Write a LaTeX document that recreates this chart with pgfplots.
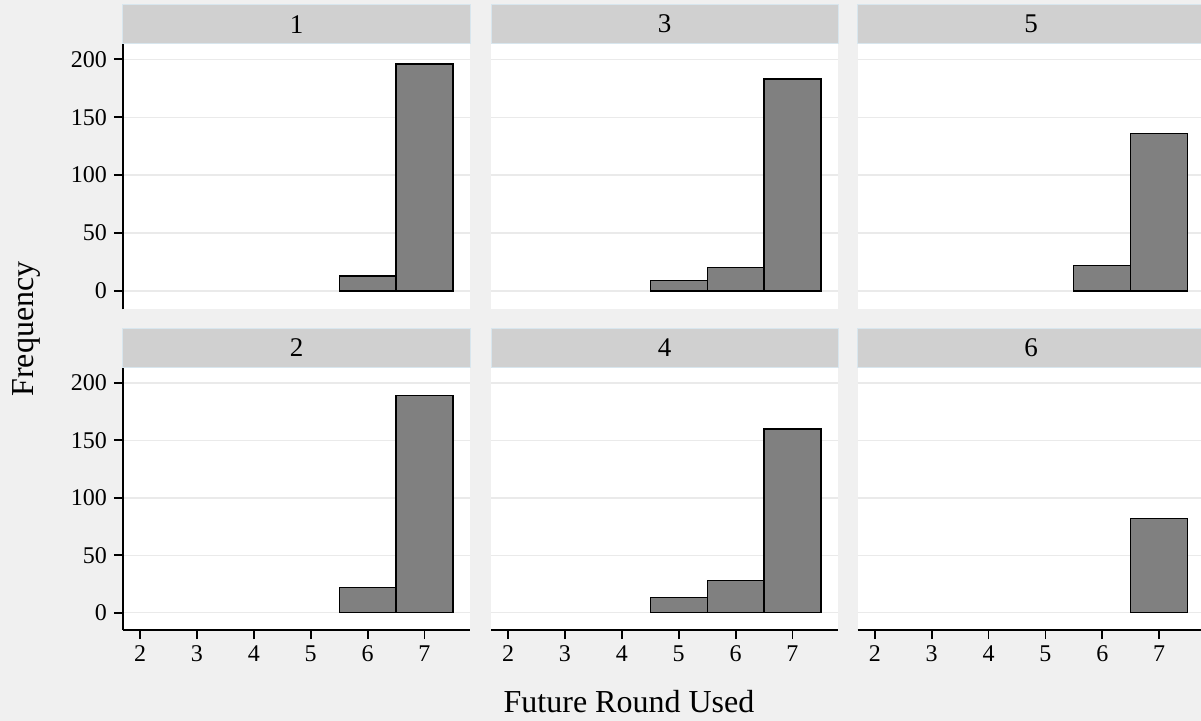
\documentclass[border=0pt]{standalone}
\usepackage{pgfplots}
\pgfplotsset{compat=1.18}
\usepackage{fontspec}
\setmainfont{Liberation Serif}
\definecolor{bgc}{HTML}{F0F0F0}
\definecolor{stripc}{HTML}{D0D0D0}
\definecolor{stripb}{HTML}{D8E6EE}
\definecolor{gridc}{HTML}{EAEAEA}
\definecolor{barc}{HTML}{808080}
\begin{document}
\begin{tikzpicture}
\useasboundingbox (0,0) rectangle (600.5bp,360.5bp);
\fill[bgc] (0,0) rectangle (600.5bp,360.5bp);
\pgfplotsset{
  panel/.style={
    scale only axis, width=173.5bp,
    xmin=1.7, xmax=7.8,
    xtick={2,...,7}, ytick={0,50,...,200},
    ymajorgrids, major grid style={gridc, line width=0.7bp},
    axis background/.style={fill=white},
    axis x line*=bottom, axis y line*=left,
    axis line style={-, line width=0.9bp, black},
    tick align=outside, major tick length=4.5bp,
    tick style={black, line width=0.9bp},
    ticklabel style={font=\fontsize{12bp}{14bp}\selectfont},
    /pgf/number format/assume math mode=true,
    title style={at={(0.5,1)}, anchor=south, fill=stripc, draw=stripb, line width=0.5bp,
      minimum width=173.5bp, minimum height=19.4bp, inner sep=0pt, yshift=-6pt,
      font=\fontsize{13.5bp}{15bp}\selectfont},
    anchor=south west,
  },
  toprow/.style={height=132.65bp, ymin=-15.8, ymax=213.2,
    x axis line style={draw=none}, xtick style={draw=none}, xticklabels={}},
  botrow/.style={height=131.15bp, ymin=-15.1, ymax=213.3},
  notleft/.style={y axis line style={draw=none}, ytick style={draw=none}, yticklabels={}},
  hbar/.style={ybar interval, fill=barc, draw=black, line width=0.6bp},
}
% top row
\begin{axis}[panel, toprow, at={(61.5bp,205.85bp)}, title={1}]
\addplot[hbar] coordinates {(5.5,13) (6.5,196) (7.5,196)};
\end{axis}
\begin{axis}[panel, toprow, notleft, at={(245.5bp,205.85bp)}, title={3}]
\addplot[hbar] coordinates {(4.5,9) (5.5,20) (6.5,183) (7.5,183)};
\end{axis}
\begin{axis}[panel, toprow, notleft, at={(428.85bp,205.85bp)}, title={5}]
\addplot[hbar] coordinates {(5.5,22) (6.5,136) (7.5,136)};
\end{axis}
% bottom row
\begin{axis}[panel, botrow, at={(61.5bp,45.5bp)}, title={2}]
\addplot[hbar] coordinates {(5.5,22) (6.5,189) (7.5,189)};
\end{axis}
\begin{axis}[panel, botrow, notleft, at={(245.5bp,45.5bp)}, title={4}]
\addplot[hbar] coordinates {(4.5,13) (5.5,28) (6.5,160) (7.5,160)};
\end{axis}
\begin{axis}[panel, botrow, notleft, at={(428.85bp,45.5bp)}, title={6}]
\addplot[hbar] coordinates {(6.5,82) (7.5,82)};
\end{axis}
\node[rotate=90, anchor=base, font=\fontsize{16bp}{18bp}\selectfont] at (16.5bp,196bp) {Frequency};
\node[anchor=base, font=\fontsize{16bp}{18bp}\selectfont] at (314.5bp,4.5bp) {Future Round Used};
\end{tikzpicture}
\end{document}
